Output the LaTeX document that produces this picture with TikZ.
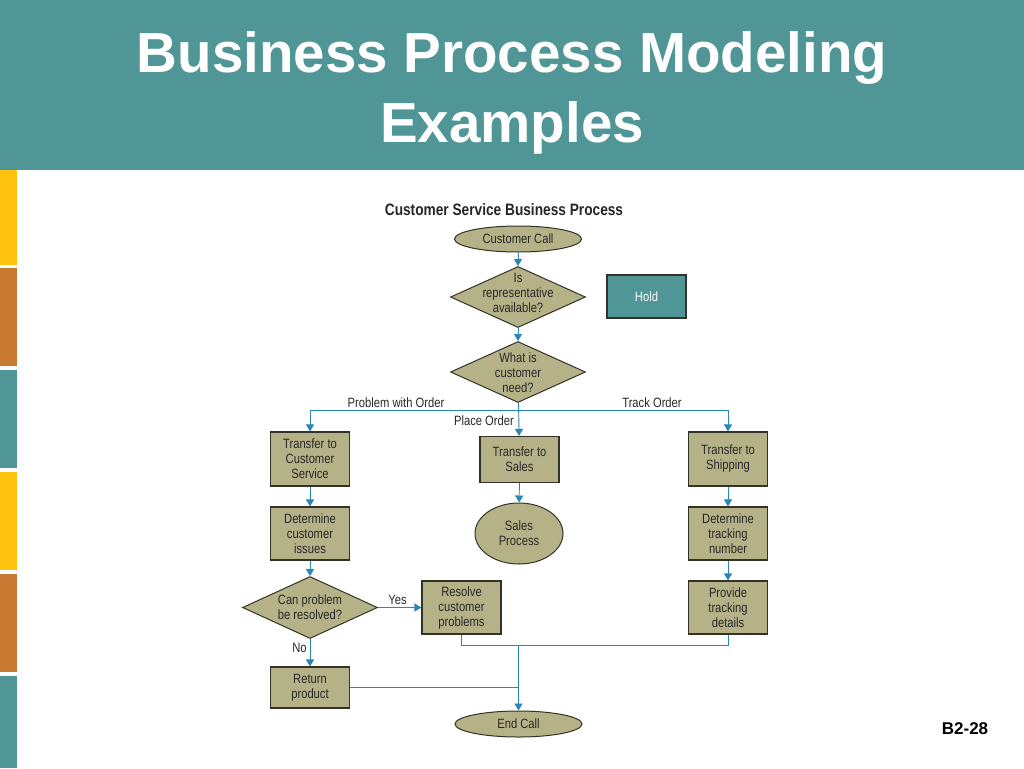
\documentclass[tikz,border=0pt]{standalone}
\usepackage{fontspec}
\setmainfont{Liberation Sans}
\newfontfamily\condfont[FakeStretch=0.83]{Liberation Sans}
\usetikzlibrary{shapes,arrows.meta}
\definecolor{bandteal}{RGB}{80,150,150}
\definecolor{stripyellow}{RGB}{255,194,14}
\definecolor{striporange}{RGB}{200,122,50}
\definecolor{khaki}{RGB}{182,178,136}
\definecolor{edgegray}{RGB}{50,50,40}
\definecolor{flowblue}{RGB}{40,135,185}
\definecolor{inkgray}{RGB}{40,40,40}
\begin{document}
\begin{tikzpicture}[x=1pt,y=-1pt]
        \tikzstyle{every node}+=[inner sep=0pt, text=inkgray, font=\condfont\fontsize{13.5}{15}\selectfont]
        \tikzstyle{procbox}=[rectangle, draw=edgegray, line width=1.1pt, fill=khaki, minimum width=79pt, align=center]
        \tikzstyle{decision}=[diamond, draw=edgegray, line width=1pt, fill=khaki, minimum width=135pt, minimum height=61pt]
        \tikzstyle{terminal}=[ellipse, draw=edgegray, line width=1pt, fill=khaki, align=center]
        \tikzstyle{flow}=[draw=flowblue, line width=0.9pt, -{Triangle[length=7pt,width=8pt]}]
        \tikzstyle{link}=[draw=flowblue, line width=0.9pt]
        \tikzstyle{tag}=[align=center]
        \path [use as bounding box] (0,0) rectangle (1024,768);
        \fill [white] (0,0) rectangle (1024,768);
        \fill [bandteal] (0,0) rectangle (1024,170);
        \fill [stripyellow] (0,170) rectangle (17,265);
        \fill [striporange] (0,268) rectangle (17,366);
        \fill [bandteal] (0,370) rectangle (17,468);
        \fill [stripyellow] (0,472) rectangle (17,570);
        \fill [striporange] (0,574) rectangle (17,672);
        \fill [bandteal] (0,676) rectangle (17,768);
        \node [anchor=base, text=white, font=\bfseries\fontsize{56.5}{68}\selectfont] (title1) at (512,72) {Business Process Modeling};
        \node [anchor=base, text=white, font=\bfseries\fontsize{56.5}{68}\selectfont] (title2) at (512,142) {Examples};
        \node [anchor=base, text=black, font=\bfseries\fontsize{17}{20}\selectfont] (slideno) at (965,734) {B2-28};
        \node [text=black!85, font=\condfont\bfseries\fontsize{16.5}{18}\selectfont] (heading) at (504,210) {Customer Service Business Process};
        % main column
        \node [terminal, minimum width=127pt, minimum height=26pt] (call) at (518,239) {Customer Call};
        \node [decision] (avail) at (518,297) {};
        \node [tag] (availtext) at (518,293) {Is\\representative\\available?};
        \node [decision] (need) at (518,372) {};
        \node [tag] (needtext) at (518,373) {What is\\customer\\need?};
        \node [procbox, fill=bandteal, text=white, minimum width=79pt, minimum height=43pt] (hold) at (646.5,296.5) {Hold};
        \node [procbox, minimum height=46pt] (tosales) at (519.5,459.5) {Transfer to\\Sales};
        \node [terminal, minimum width=88pt, minimum height=61pt] (salesproc) at (519,533.5) {Sales\\Process};
        \node [terminal, minimum width=127pt, minimum height=26pt] (endcall) at (518.5,724) {End Call};
        % left column
        \node [procbox, minimum height=54pt] (toservice) at (310,459) {Transfer to\\Customer\\Service};
        \node [procbox, minimum height=53pt] (issues) at (310,533.5) {Determine\\customer\\issues};
        \node [decision, minimum width=135pt, minimum height=62pt] (resolvable) at (310,607.5) {};
        \node [tag] (resolvabletext) at (310,607) {Can problem\\be resolved?};
        \node [procbox, minimum height=53pt] (resolve) at (461.5,607.5) {Resolve\\customer\\problems};
        \node [procbox, minimum height=41pt] (returnprod) at (310,687.5) {Return\\product};
        % right column
        \node [procbox, minimum height=54pt] (toshipping) at (728,459) {Transfer to\\Shipping};
        \node [procbox, minimum height=53pt] (tracknum) at (728,533.5) {Determine\\tracking\\number};
        \node [procbox, minimum height=53pt] (trackdetails) at (728,607.5) {Provide\\tracking\\details};
        \coordinate (split) at (518.5,410.5);
        \coordinate (merge) at (518.5,645.5);
        \draw [flow] (call) -- (avail);
        \draw [flow] (avail) -- (need);
        \draw [flow] (need) -- (tosales);
        \draw [flow] (split) -| (toservice);
        \draw [flow] (split) -| (toshipping);
        \draw [flow] (tosales) -- (salesproc);
        \draw [flow] (toservice) -- (issues);
        \draw [flow] (issues) -- (resolvable);
        \draw [flow] (resolvable) -- (resolve);
        \draw [flow] (resolvable) -- (returnprod);
        \draw [flow] (toshipping) -- (tracknum);
        \draw [flow] (tracknum) -- (trackdetails);
        \draw [link] (resolve) |- (merge);
        \draw [link] (trackdetails) |- (merge);
        \draw [link] (returnprod.east) -- (returnprod.east -| merge);
        \draw [flow] (merge) -- (endcall);
        \node (probtag) at (396,403) {Problem with Order};
        \node (tracktag) at (652,403) {Track Order};
        \node (placetag) at (484,421) {Place Order};
        \node (yestag) at (397.5,599.5) {Yes};
        \node (notag) at (299.5,648) {No};
\end{tikzpicture}
\end{document}
